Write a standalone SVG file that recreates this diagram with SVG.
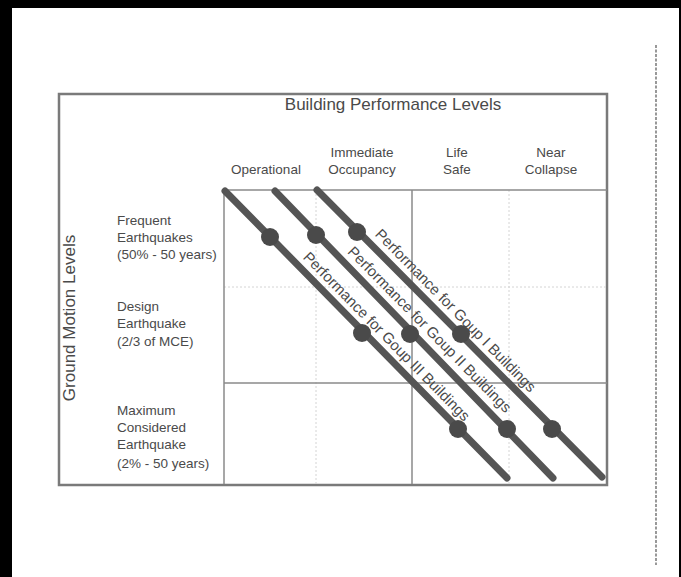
<svg xmlns="http://www.w3.org/2000/svg" width="681" height="577" viewBox="0 0 681 577">
<style>
text{font-family:"Liberation Sans",Arial,sans-serif;fill:#4a4a4a}
.big{font-size:17px}
.sm{font-size:13.5px}
.lab{font-size:15px}
.mid{text-anchor:middle}
.grid{stroke:#8a8a8a;stroke-width:1.5;fill:none}
.faint{stroke:#d4d4d4;stroke-width:1;stroke-dasharray:2 2;fill:none}
.perf{stroke:#555;stroke-width:7;stroke-linecap:round;fill:none}
.node{fill:#4a4a4a}
</style>
<rect x="0" y="0" width="681" height="577" fill="#fff"/>
<!-- scan frame -->
<rect x="0" y="0" width="12" height="577" fill="#000"/>
<rect x="0" y="0" width="681" height="8" fill="#000"/>
<rect x="679" y="0" width="2" height="577" fill="#000"/>
<line x1="656" y1="45" x2="656" y2="565" stroke="#555" stroke-width="1.2" stroke-dasharray="3 1.5"/>

<g id="frame">
<rect x="59" y="94" width="548" height="391" fill="none" stroke="#7a7a7a" stroke-width="2.5"/>
<text class="big mid" x="393" y="110">Building Performance Levels</text>
<text class="big mid" transform="translate(75,318) rotate(-90)">Ground Motion Levels</text>
</g>

<g id="grid">
<line class="faint" x1="224" y1="287" x2="607" y2="287"/>
<line class="faint" x1="316" y1="190" x2="316" y2="484"/>
<line class="faint" x1="509" y1="190" x2="509" y2="484"/>
<line class="grid" x1="224" y1="190" x2="607" y2="190"/>
<line class="grid" x1="224" y1="190" x2="224" y2="484"/>
<line class="grid" x1="412" y1="190" x2="412" y2="484"/>
<line class="grid" x1="224" y1="383" x2="607" y2="383"/>
</g>

<g id="col-headers">
<text class="sm mid" x="266" y="174">Operational</text>
<text class="sm mid" x="362" y="157">Immediate</text>
<text class="sm mid" x="362" y="174">Occupancy</text>
<text class="sm mid" x="457" y="157">Life</text>
<text class="sm mid" x="457" y="174">Safe</text>
<text class="sm mid" x="551" y="157">Near</text>
<text class="sm mid" x="551" y="174">Collapse</text>
</g>

<g id="row-frequent">
<text class="sm" x="117" y="225">Frequent</text>
<text class="sm" x="117" y="242">Earthquakes</text>
<text class="sm" x="117" y="259">(50% - 50 years)</text>
</g>
<g id="row-design">
<text class="sm" x="117" y="311">Design</text>
<text class="sm" x="117" y="328">Earthquake</text>
<text class="sm" x="117" y="346">(2/3 of MCE)</text>
</g>
<g id="row-mce">
<text class="sm" x="117" y="415">Maximum</text>
<text class="sm" x="117" y="432">Considered</text>
<text class="sm" x="117" y="449">Earthquake</text>
<text class="sm" x="117" y="468">(2% - 50 years)</text>
</g>

<g id="connectors">
<line class="perf" x1="225" y1="191" x2="507" y2="478"/>
<line class="perf" x1="275" y1="191" x2="553" y2="478"/>
<line class="perf" x1="317" y1="190" x2="602" y2="477"/>
</g>

<g id="group-III">
<circle class="node" cx="270" cy="237" r="9"/>
<circle class="node" cx="362" cy="333" r="9"/>
<circle class="node" cx="458" cy="429" r="9"/>
<text class="lab mid" transform="translate(383,340) rotate(45.5)">Performance for Goup III Buildings</text>
</g>
<g id="group-II">
<circle class="node" cx="316" cy="235" r="9"/>
<circle class="node" cx="410" cy="334" r="9"/>
<circle class="node" cx="507" cy="429" r="9"/>
<text class="lab mid" transform="translate(426,333) rotate(45.5)">Performance for Goup II Buildings</text>
</g>
<g id="group-I">
<circle class="node" cx="357" cy="232" r="9"/>
<circle class="node" cx="461" cy="334" r="9"/>
<circle class="node" cx="552" cy="429" r="9"/>
<text class="lab mid" transform="translate(452,314) rotate(45.5)">Performance for Goup I Buildings</text>
</g>
</svg>
